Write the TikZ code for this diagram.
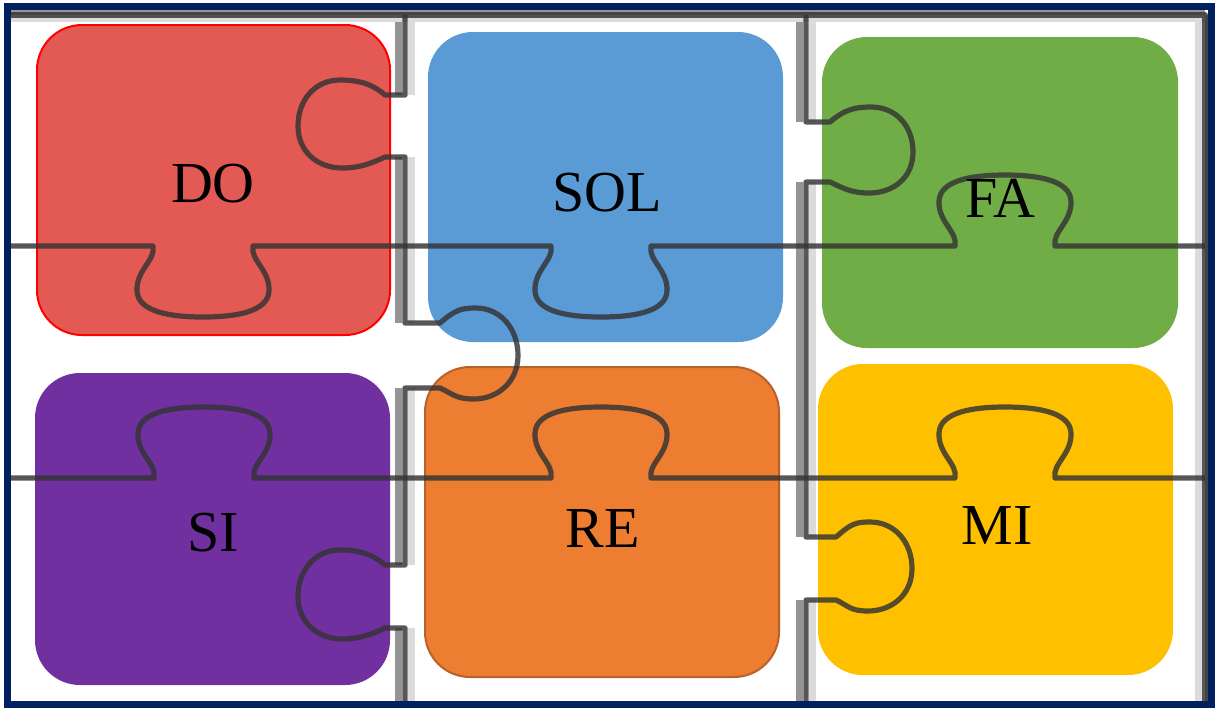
\documentclass[tikz,border=0pt]{standalone}
\usepackage{fontspec}
\setmainfont{Liberation Serif}
\definecolor{navy}{HTML}{002060}
\definecolor{cdo}{HTML}{E35A55}
\definecolor{csol}{HTML}{5B9BD5}
\definecolor{cfa}{HTML}{70AD47}
\definecolor{csi}{HTML}{7030A0}
\definecolor{cre}{HTML}{ED7D31}
\definecolor{cre2}{HTML}{B8612A}
\definecolor{cmi}{HTML}{FFC000}
% horizontal knob: start (a,Y), width 100, d=+1 down / -1 up
\newcommand\hk[3]{%
 .. controls ({#1+3},{#2+14*(#3)}) and ({#1-17},{#2+24*(#3)}) .. ({#1-16},{#2+45*(#3)})
 .. controls ({#1-15},{#2+66*(#3)}) and ({#1+18},{#2+71*(#3)}) .. ({#1+50},{#2+71*(#3)})
 .. controls ({#1+82},{#2+71*(#3)}) and ({#1+115},{#2+66*(#3)}) .. ({#1+116},{#2+45*(#3)})
 .. controls ({#1+117},{#2+24*(#3)}) and ({#1+97},{#2+14*(#3)}) .. ({#1+100},{#2})}
% vertical knob: X, y1, y2, d, neck n, depth D
\newcommand\vk[6]{%
 -- ({#1+#5*(#4)},{#2})
 .. controls ({#1+(#5+15)*(#4)},{#2-13}) and ({#1+(#6-57)*(#4)},{#2-15}) .. ({#1+(#6-42)*(#4)},{#2-15})
 .. controls ({#1+(#6-17)*(#4)},{#2-15}) and ({#1+#6*(#4)},{(#2+#3)/2-26}) .. ({#1+#6*(#4)},{(#2+#3)/2})
 .. controls ({#1+#6*(#4)},{(#2+#3)/2+26}) and ({#1+(#6-20)*(#4)},{#3+11}) .. ({#1+(#6-44)*(#4)},{#3+11})
 .. controls ({#1+(#6-62)*(#4)},{#3+11}) and ({#1+(#5+13)*(#4)},{#3+6}) .. ({#1+#5*(#4)},{#3})
 -- ({#1},{#3})}
\tikzset{
 box/.style={rounded corners=22.5pt, inner sep=0pt, outer sep=0pt},
 lbl/.style={font=\fontsize{29}{34}\selectfont, inner sep=0pt, text=black},
 core/.style={draw=black!80, line width=2.6pt, opacity=0.82, line join=round},
 halodark/.style={draw=black!42, line width=3.5pt},
 halolight/.style={draw=black!14, line width=3.5pt},
}
\newcommand\vband[3]{%
 \draw[halodark] ({#1-6.5},#2) -- ({#1-6.5},#3);
 \draw[halolight] ({#1+6.5},#2) -- ({#1+6.5},#3);}
\begin{document}
\begin{tikzpicture}[x=0.5pt,y=-0.5pt]
\useasboundingbox (0,0) rectangle (1220,708);
\fill[white] (0,0) rectangle (1220,708);
% pieces
\node[box,fill=cdo,draw=red,line width=1pt,minimum width=176.5pt,minimum height=155pt] (do) at (213.5,180) {};
\node[box,fill=csol,minimum width=177.5pt,minimum height=155pt] (sol) at (605.5,187) {};
\node[box,fill=cfa,minimum width=178pt,minimum height=155.5pt] (fa) at (1000,192.5) {};
\node[box,fill=csi,minimum width=177.5pt,minimum height=156pt] (si) at (212.5,529) {};
\node[box,fill=cre,draw=cre2,line width=1pt,minimum width=177pt,minimum height=155pt] (re) at (602,522) {};
\node[box,fill=cmi,minimum width=177.5pt,minimum height=155.5pt] (mi) at (995.5,519.5) {};
% halos of straight cut lines
\vband{405}{15}{95}
\vband{405}{157}{323}
\vband{405}{388}{565}
\vband{405}{628}{702}
\vband{806}{15}{122}
\vband{806}{182}{537}
\vband{806}{600}{702}
\draw[halolight] (1198.5,15) -- (1198.5,702);
\draw[halodark] (1208.5,15) -- (1208.5,702);
\draw[halodark] (11,11.5) -- (1205,11.5);
\draw[halolight] (11,18.5) -- (1205,18.5);
% cut lines
\draw[core] (11,15) -- (1205,15) -- (1205,702);
\draw[core] (11,246) -- (153,246) \hk{153}{246}{1} -- (551,246) \hk{551}{246}{1} -- (955,246) \hk{955}{246}{-1} -- (1205,246);
\draw[core] (11,478) -- (154,478) \hk{154}{478}{-1} -- (551,478) \hk{551}{478}{-1} -- (955,478) \hk{955}{478}{-1} -- (1205,478);
\draw[core] (405,15) -- (405,95) \vk{405}{95}{157}{-1}{20}{107} -- (405,323) \vk{405}{323}{388}{1}{35}{113} -- (405,565) \vk{405}{565}{628}{-1}{20}{107} -- (405,702);
\draw[core] (806,15) -- (806,122) \vk{806}{122}{182}{1}{24}{107} -- (806,537) \vk{806}{537}{600}{1}{30}{106} -- (806,702);
% labels
\node[lbl] (tdo) at (213,184) {DO};
\node[lbl] (tsol) at (607,193) {SOL};
\node[lbl] (tfa) at (1000,198) {FA};
\node[lbl] (tsi) at (213,533) {SI};
\node[lbl] (tre) at (603,528) {RE};
\node[lbl] (tmi) at (997,525) {MI};
% frame
\draw[navy,line width=3.5pt] (7.5,6.5) rectangle (1211.5,704.5);
\end{tikzpicture}
\end{document}
